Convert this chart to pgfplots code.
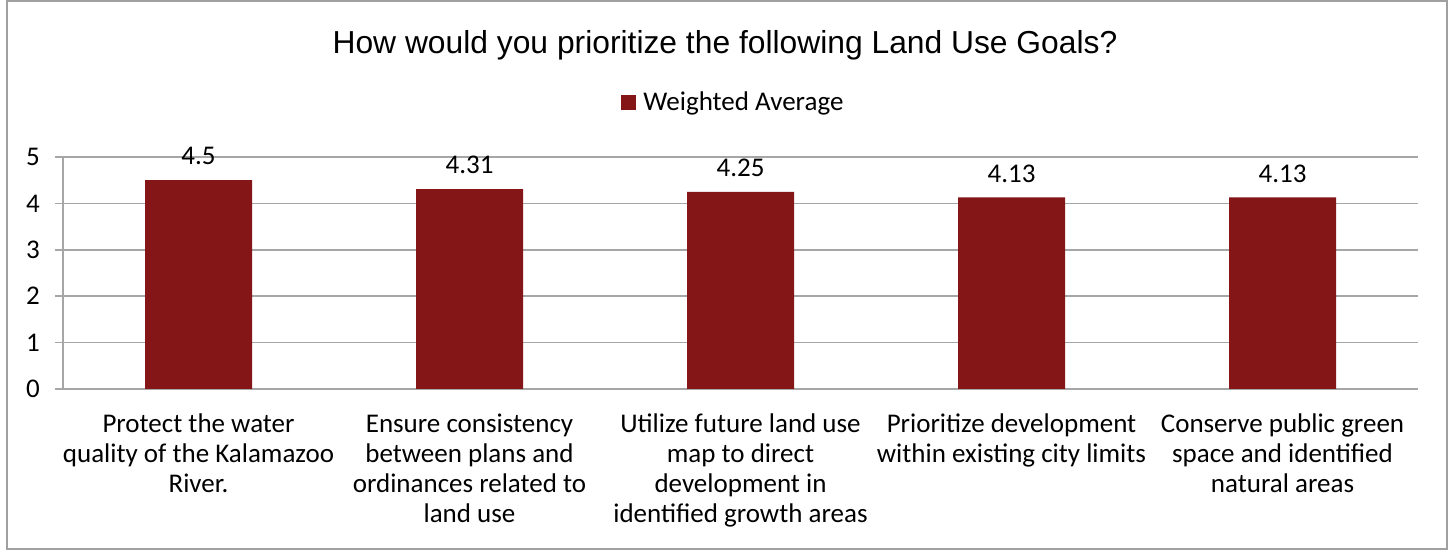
\documentclass[border=0pt]{standalone}
\usepackage{pgfplots}
\pgfplotsset{compat=1.18}
\usepackage{fontspec}
\setmainfont{Carlito}
\newfontfamily\titlefont{Liberation Sans}
\definecolor{barred}{HTML}{841618}
\definecolor{gridgray}{HTML}{A6A6A6}
\definecolor{framegray}{HTML}{A0A0A0}
\begin{document}
\begin{tikzpicture}[x=0.5pt,y=0.5pt]
\useasboundingbox (0,0) rectangle (1450,550);
\draw[framegray, line width=1pt] (7,1) rectangle (1447,549);
\node[font=\titlefont\fontsize{15.9}{18}\selectfont] at (725,505) {How would you prioritize the following Land Use Goals?};
\fill[barred] (621,440) rectangle (636,455);
\node[anchor=west, font=\fontsize{13.5}{15}\selectfont, inner sep=0pt] at (643,447) {Weighted Average};
\begin{axis}[
  at={(31.5pt,80.5pt)}, anchor=south west,
  scale only axis, width=677.5pt, height=116pt,
  xmin=-0.5, xmax=4.5, ymin=0, ymax=5,
  ytick={0,1,2,3,4,5},
  xtick={0,1,2,3,4},
  xticklabels={{Protect the water\\quality of the Kalamazoo\\River.},
               {Ensure consistency\\between plans and\\ordinances related to\\land use},
               {Utilize future land use\\map to direct\\development in\\identified growth areas},
               {Prioritize development\\within existing city limits},
               {Conserve public green\\space and identified\\natural areas}},
  xticklabel style={align=center, anchor=north, yshift=-5pt, font=\fontsize{13.5}{15}\selectfont, text=black},
  yticklabel style={font=\fontsize{13.5}{15}\selectfont, text=black, xshift=-4pt},
  /pgf/number format/assume math mode=true,
  extra x ticks={-0.5,0.5,1.5,2.5,3.5,4.5},
  extra x tick labels={},
  extra x tick style={major tick length=5pt, tick style={gridgray, line width=0.8pt}, tick align=outside, grid=none},
  major x tick style={draw=none},
  ymajorgrids, grid style={gridgray, line width=0.8pt},
  major y tick style={gridgray, line width=0.8pt},
  ytick align=outside, major tick length=4pt,
  axis y line*=left, axis x line*=bottom,
  axis line style={gridgray, line width=0.8pt},
  separate axis lines,
  ybar, bar width=53.5pt,
  nodes near coords,
  every node near coord/.append style={font=\fontsize{13.5}{15}\selectfont, text=black, yshift=4pt},
  point meta=explicit symbolic,
  clip=false,
]
\addplot[fill=barred, draw=none] coordinates {(0,4.5)[4.5] (1,4.31)[4.31] (2,4.25)[4.25] (3,4.13)[4.13] (4,4.13)[4.13]};
\end{axis}
\end{tikzpicture}
\end{document}
